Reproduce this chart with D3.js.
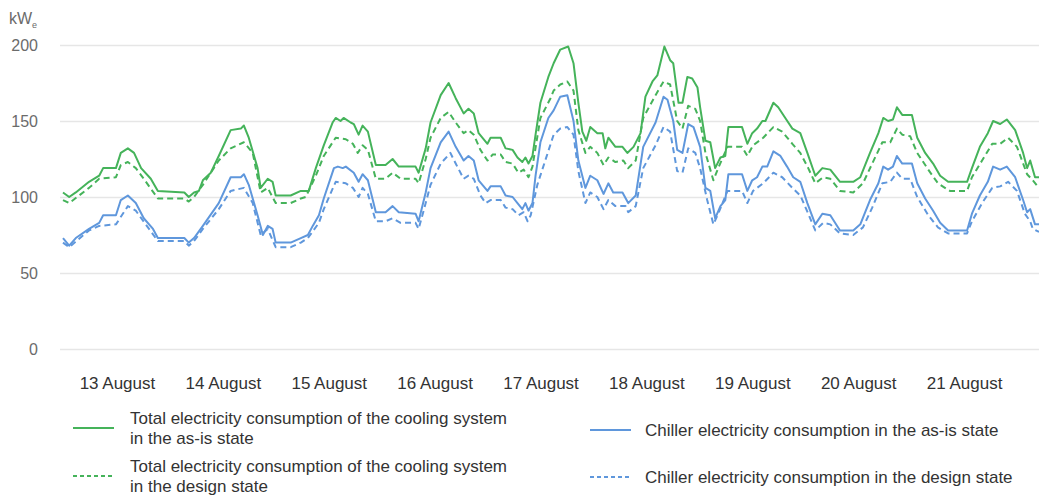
<!DOCTYPE html>
<html>
<head>
<meta charset="utf-8">
<script src="https://cdn.jsdelivr.net/npm/d3@7"></script>
<style>
  body { margin: 0; background: #fff; }
  svg { font-family: "Liberation Sans", Arial, sans-serif; }
</style>
</head>
<body>
<svg class="chart" width="1039" height="499"></svg>
<script>
// hours from 13 August 00:00, value in kWe
const totalAsIs = [[0,103],[1.4,100],[2.9,103],[5.9,110],[8.2,114],[9.1,119],[12,119],[13.1,129],[14.7,132],[16.1,129],[17.7,119],[19.9,112],[21.5,104],[27.5,103],[28.5,100],[29.7,103],[30.8,104],[31.7,111],[33.5,116],[35.3,127],[38,144],[40.3,145],[41,147],[42.1,139],[44.1,119],[44.8,106],[46.4,112],[47.5,110],[48.2,101],[51.6,101],[53.9,104],[55.7,104],[57.3,119],[59.1,134],[61.1,149],[61.8,152],[62.9,150],[63.6,152],[65.2,149],[65.9,148],[67,141],[67.9,147],[69.1,143],[70.9,121],[73.1,121],[74.7,125],[76.1,120],[79.9,120],[80.6,116],[82.2,132],[83.3,149],[85.6,167],[87.4,175],[89,165],[90.8,155],[91.9,158],[93.1,155],[94.2,142],[96.2,135],[96.9,139],[99.2,139],[100.3,132],[101.9,131],[103,126],[104.1,123],[104.8,126],[105.5,122],[106.4,127],[107.1,141],[108.2,162],[110,179],[111.2,188],[112.7,197],[114.5,199],[115.7,188],[116.8,162],[117.7,143],[118.6,137],[119.5,146],[121.1,142],[122.3,142],[122.9,132],[123.6,139],[125.2,133],[126.8,133],[127.9,129],[129.3,133],[130.9,142],[132,166],[133.6,176],[134.7,180],[136.3,199],[137.6,190],[138.3,188],[139.5,162],[140.4,162],[141.5,179],[142.6,178],[143.8,172],[144.4,159],[145.6,137],[146.7,136],[147.8,119],[149,126],[150.1,127],[150.8,146],[153.9,146],[155.1,135],[156.2,142],[157.3,145],[158.5,150],[159.2,150],[161,162],[162.1,159],[163.7,152],[165.3,145],[167.1,142],[168.7,129],[170.5,114],[172.1,119],[173.9,118],[176.1,110],[179.1,110],[180.7,113],[182.9,129],[184.8,142],[185.9,152],[187,150],[188.1,151],[189,159],[190.2,154],[192.4,154],[193.6,139],[195.4,129],[197.2,122],[198.8,114],[200.6,110],[204.9,110],[206,119],[207.8,133],[209.6,142],[210.8,150],[212.4,148],[213.9,151],[215.8,144],[217.6,129],[218.5,119],[219.2,124],[220.3,113],[221.2,113]];

const totalDesign = [[0,98],[1.4,96],[5.9,106],[8.2,112],[12,113],[13.1,121],[14.7,123],[16.5,119],[18.3,112],[21.5,99],[27.5,99],[28.5,97],[29.7,100],[31.7,108],[35.3,124],[38,132],[41,136],[43,129],[44.8,103],[46.4,106],[48.2,96],[51.6,96],[53.9,99],[55,100],[57.3,114],[59.1,127],[61.8,139],[64.1,138],[65.7,135],[66.8,129],[67.9,134],[69.1,131],[70.9,112],[73.1,112],[74.7,116],[76.5,112],[79.9,112],[80.6,109],[82.2,125],[83.3,139],[85.6,152],[87.4,156],[89,149],[90.8,142],[91.9,144],[93.1,141],[94.6,131],[96.2,124],[97.4,128],[99.2,128],[100.3,123],[101.9,122],[103.2,116],[104.4,118],[105.5,113],[106.4,120],[108.2,152],[110.5,165],[111.2,170],[112.7,174],[114.3,176],[115.7,170],[116.8,144],[118.4,129],[119.5,133],[121.1,129],[122.5,121],[123.6,126],[125.2,123],[127,124],[128.1,119],[129.8,124],[131.5,152],[134.3,167],[136.1,176],[137.6,174],[139.2,150],[140.4,145],[141.7,160],[143.3,158],[144.4,150],[145.6,129],[147.4,111],[148.5,119],[150.6,133],[153.9,133],[155.1,127],[156.4,134],[158.7,139],[161,146],[163,143],[165.3,135],[167.1,129],[168.9,119],[170.5,109],[172.3,113],[173.9,112],[176.1,104],[179.1,103],[181.3,109],[183.4,122],[185.7,136],[187.5,136],[189,145],[190.2,141],[192,140],[193.6,129],[196.1,118],[198.3,109],[201,104],[204.9,104],[206,113],[208.3,124],[210.6,135],[212.4,135],[214.2,139],[216.2,133],[218.5,115],[219.8,111],[221.2,106]];

const chillerAsIs = [[0,73],[1.4,68],[2.9,73],[5.9,79],[8.2,83],[9.1,88],[12,88],[13.1,98],[14.7,101],[16.5,96],[18.3,86],[20.4,79],[21.5,73],[27.5,73],[28.5,70],[29.7,73],[31.7,81],[35.3,96],[38,113],[40.3,113],[41,115],[42.1,108],[44.1,88],[45.3,75],[46.4,81],[47.5,79],[48.2,70],[51.6,70],[53.9,73],[55.5,75],[56.6,81],[58,88],[59.1,99],[61.4,119],[62.3,120],[63.4,119],[64.1,120],[65.9,116],[67,110],[67.9,115],[69.1,111],[70.9,90],[73.1,90],[74.7,94],[76.1,90],[79.9,89],[80.6,84],[82.2,103],[83.3,119],[85.6,136],[87.4,143],[89,133],[90.8,124],[91.9,127],[93.1,124],[94.2,111],[96.2,104],[96.9,107],[99.2,107],[100.3,101],[101.9,100],[103,96],[104.1,92],[104.8,96],[105.5,91],[106.4,96],[107.1,114],[108.2,136],[110,152],[111.2,157],[112.7,166],[114.3,167],[115.7,150],[116.8,124],[118.4,106],[119.5,114],[121.1,111],[122.5,102],[123.6,109],[124.7,103],[126.8,103],[128.1,96],[129.8,101],[131.5,133],[134.3,149],[136.1,166],[137,164],[138.3,150],[139.2,131],[140.4,129],[141.7,148],[142.9,146],[144.4,133],[145.6,106],[146.7,104],[147.8,86],[149,94],[150.1,98],[150.8,115],[153.9,115],[155.1,104],[156.2,111],[157.3,113],[158.5,120],[159.6,120],[161,130],[162.6,127],[164.1,120],[165.5,113],[167.1,110],[168.7,96],[170.5,82],[172.1,89],[173.9,88],[176.1,78],[179.1,78],[180.7,82],[182.9,98],[184.8,109],[185.9,120],[187,118],[188.1,120],[189,127],[190.2,122],[192.4,122],[193.6,109],[195.4,99],[197.2,91],[198.8,83],[200.6,78],[204.9,78],[206,89],[207.8,101],[209.6,110],[210.8,120],[212.4,118],[213.9,120],[215.8,113],[217.6,98],[218.5,90],[219.2,92],[220.3,82],[221.2,82]];

const chillerDesign = [[0,70],[1.4,67],[5.9,78],[8.2,81],[12,82],[14.7,94],[16.5,91],[21.5,71],[27.5,71],[28.5,68],[29.7,71],[31.7,79],[35.3,92],[38,104],[41,106],[43,96],[44.8,75],[46.4,79],[48.2,67],[51.6,67],[53.9,70],[55.5,73],[58,83],[59.1,92],[61.8,110],[64.1,109],[65.7,106],[67,100],[67.9,106],[69.1,102],[70.9,84],[73.1,84],[74.7,86],[76.5,83],[79.9,83],[80.6,79],[82.2,96],[83.3,108],[85.6,122],[87.8,129],[89,122],[90.8,112],[91.9,114],[93.1,112],[94.6,101],[95.8,96],[96.9,98],[99.2,98],[100.3,93],[101.9,92],[103.2,88],[104.4,90],[105.3,84],[106,88],[107.5,108],[109.3,124],[111.2,141],[112.7,145],[114.3,146],[115.7,141],[116.8,117],[118.4,96],[119.5,103],[121.1,100],[122.5,92],[123.6,98],[125.2,94],[127.5,94],[128.1,90],[129.8,94],[131.5,119],[134.3,134],[136.1,146],[137.6,143],[139.2,117],[140.4,116],[141.7,132],[143.3,129],[144.4,119],[146,98],[147.4,82],[148.5,89],[150.6,104],[153.9,104],[155.1,96],[156.4,104],[158.7,109],[161,116],[163,113],[165.3,106],[167.1,101],[168.9,89],[170.5,78],[172.3,83],[173.9,82],[176.1,76],[179.1,75],[181.3,80],[183.4,93],[185.7,109],[187.5,110],[189,116],[190.2,112],[192,112],[193.6,100],[196.1,88],[198.3,80],[200.6,76],[204.9,76],[206,84],[208.3,96],[210.6,106],[212.4,107],[214.2,110],[216.2,104],[218,89],[219.2,84],[219.8,79],[221.2,77]];

const dayLabels = ["13 August", "14 August", "15 August", "16 August", "17 August", "18 August", "19 August", "20 August", "21 August"];
const yTicks = [0, 50, 100, 150, 200];

const green = "#45b35a";
const blue = "#5f97dc";

const svg = d3.select(".chart");

const xScale = d3.scaleLinear().domain([0, 221.2]).range([63, 1039]);
const yScale = d3.scaleLinear().domain([0, 200]).range([349, 45]);

// grid + y labels
const yAxis = d3.axisLeft(yScale)
    .tickValues(yTicks)
    .tickSize(-(1039 - 60))
    .tickPadding(22);

const gy = svg.append("g")
    .attr("transform", "translate(60,0)")
    .call(yAxis);
gy.select(".domain").remove();
gy.selectAll(".tick line").attr("stroke", "#e6e6e6").attr("stroke-width", 1.5);
gy.selectAll(".tick text")
    .attr("fill", "#6b6b6b")
    .attr("font-size", 16)
    .attr("font-family", "Liberation Sans, Arial, sans-serif");

// unit label
const unit = svg.append("text")
    .attr("x", 9)
    .attr("y", 24)
    .attr("fill", "#6b6b6b")
    .attr("font-size", 16)
    .text("kW");
unit.append("tspan")
    .attr("font-size", 9)
    .attr("dy", 4)
    .text("e");

// x labels
const xAxis = d3.axisBottom(xScale)
    .tickValues(dayLabels.map((d, i) => 12 + 24 * i))
    .tickFormat((d, i) => dayLabels[i])
    .tickSize(0)
    .tickPadding(0);

const gx = svg.append("g")
    .attr("transform", "translate(1,377)")
    .call(xAxis);
gx.select(".domain").remove();
gx.selectAll(".tick text")
    .attr("fill", "#333")
    .attr("font-size", 17)
    .attr("font-family", "Liberation Sans, Arial, sans-serif");

const line = d3.line()
    .x(d => xScale(d[0]))
    .y(d => yScale(d[1]));

const series = [
    { name: "chillerDesign", data: chillerDesign, color: blue, dash: "6,4" },
    { name: "chillerAsIs", data: chillerAsIs, color: blue, dash: null },
    { name: "totalDesign", data: totalDesign, color: green, dash: "6,4" },
    { name: "totalAsIs", data: totalAsIs, color: green, dash: null }
];

svg.append("g")
    .selectAll("path")
    .data(series)
    .join("path")
    .attr("fill", "none")
    .attr("stroke", d => d.color)
    .attr("stroke-width", 2)
    .attr("stroke-linejoin", "round")
    .attr("stroke-dasharray", d => d.dash)
    .attr("d", d => line(d.data));

// legend
const legendItems = [
    { lines: ["Total electricity consumption of the cooling system", "in the as-is state"], color: green, dash: null, x: 73, y: 428 },
    { lines: ["Total electricity consumption of the cooling system", "in the design state"], color: green, dash: "4,3", x: 73, y: 476 },
    { lines: ["Chiller electricity consumption in the as-is state"], color: blue, dash: null, x: 590, y: 430 },
    { lines: ["Chiller electricity consumption in the design state"], color: blue, dash: "4,3", x: 590, y: 477 }
];

const lg = svg.append("g")
    .selectAll("g")
    .data(legendItems)
    .join("g")
    .attr("transform", d => `translate(${d.x},${d.y})`);

lg.append("line")
    .attr("x1", 0).attr("x2", 41)
    .attr("stroke", d => d.color)
    .attr("stroke-width", 2)
    .attr("stroke-dasharray", d => d.dash);

lg.each(function (d) {
    const g = d3.select(this);
    const n = d.lines.length;
    d.lines.forEach((t, i) => {
        g.append("text")
            .attr("x", d.x < 300 ? 57 : 55)
            .attr("y", (i - (n - 1) / 2) * 20)
            .attr("dy", "0.35em")
            .attr("fill", "#333")
            .attr("font-size", 17)
            .text(t);
    });
});
</script>
</body>
</html>
